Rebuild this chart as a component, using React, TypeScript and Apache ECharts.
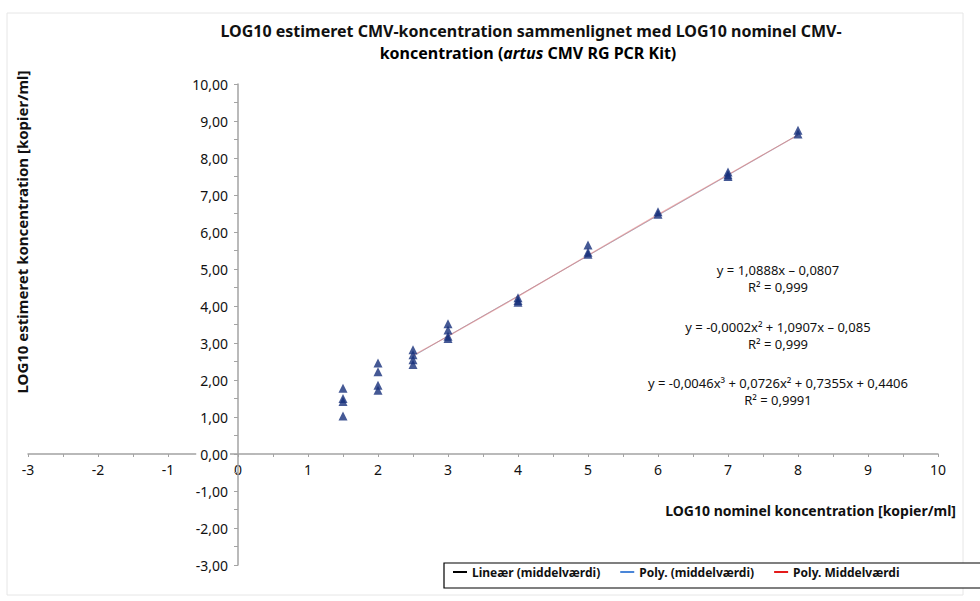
import React, { useEffect, useRef } from "react";
import * as echarts from "echarts";

const titleLine1 = "LOG10 estimeret CMV-koncentration sammenlignet med LOG10 nominel CMV-";
const titleLine2Parts = ["koncentration (", "artus", " CMV RG PCR Kit)"];
const yAxisTitle = "LOG10 estimeret koncentration [kopier/ml]";
const xAxisTitle = "LOG10 nominel koncentration [kopier/ml]";

const measured: [number, number][] = [
  [1.5, 1.78], [1.5, 1.5], [1.5, 1.42], [1.5, 1.03],
  [2, 2.46], [2, 2.22], [2, 1.86], [2, 1.72],
  [2.5, 2.82], [2.5, 2.68], [2.5, 2.55], [2.5, 2.42],
  [3, 3.52], [3, 3.35], [3, 3.18], [3, 3.12],
  [4, 4.22], [4, 4.15], [4, 4.1],
  [5, 5.65], [5, 5.45], [5, 5.4],
  [6, 6.55], [6, 6.48],
  [7, 7.62], [7, 7.55], [7, 7.5],
  [8, 8.75], [8, 8.65],
];

const trendX = [2.5, 3, 4, 5, 6, 7, 8];
const linearTrend = [2.64, 3.19, 4.27, 5.36, 6.45, 7.54, 8.63];
const poly2Trend = [2.64, 3.19, 4.27, 5.36, 6.45, 7.53, 8.62];
const poly3Trend = [2.66, 3.18, 4.26, 5.37, 6.47, 7.55, 8.62];

const legendNames = ["Lineær (middelværdi)", "Poly. (middelværdi)", "Poly. Middelværdi"];
const equations = [
  ["y = 1,0888x – 0,0807", "R² = 0,999"],
  ["y = -0,0002x² + 1,0907x – 0,085", "R² = 0,999"],
  ["y = -0,0046x³ + 0,0726x² + 0,7355x + 0,4406", "R² = 0,9991"],
];

const FONT = "'Noto Sans', sans-serif";
const AXIS_COLOR = "#a3a3a3";

export default function App() {
  const ref = useRef<HTMLDivElement>(null);
  useEffect(() => {
    if (!ref.current) return;
    const chart = echarts.init(ref.current, undefined, { renderer: "svg" });
    const pair = (ys: number[]) => trendX.map((x, i) => [x, ys[i]]);
    const eqGraphics: any[] = [];
    const eqY = [270, 327, 383];
    equations.forEach((eq, i) => {
      eq.forEach((t, j) => {
        eqGraphics.push({
          type: "text",
          x: 778,
          y: eqY[i] + j * 17,
          style: {
            text: t,
            font: `13px ${FONT}`,
            fill: "#111",
            textAlign: "center",
            textVerticalAlign: "middle",
          },
        });
      });
    });
    chart.setOption({
      animation: false,
      backgroundColor: "#fff",
      textStyle: { fontFamily: FONT },
      grid: {
        left: 28,
        right: 42,
        top: 84,
        bottom: 36,
        containLabel: false,
        outerBoundsMode: "none",
      },
      xAxis: {
        type: "value",
        min: -3,
        max: 10,
        interval: 1,
        offset: -111,
        axisLine: { onZero: false, lineStyle: { color: AXIS_COLOR, width: 1.5 } },
        axisTick: { show: true, length: 3, lineStyle: { color: AXIS_COLOR } },
        minorTick: { show: true, splitNumber: 2, length: 3, lineStyle: { color: AXIS_COLOR } },
        splitLine: { show: false },
        axisLabel: { color: "#111", fontSize: 14, margin: 8, fontFamily: FONT },
      },
      yAxis: {
        type: "value",
        min: -3,
        max: 10,
        interval: 1,
        offset: -210,
        axisLine: { onZero: false, lineStyle: { color: AXIS_COLOR, width: 1.5 } },
        axisTick: { show: true, length: 4, lineStyle: { color: AXIS_COLOR } },
        minorTick: { show: true, splitNumber: 2, length: 4, lineStyle: { color: AXIS_COLOR } },
        splitLine: { show: false },
        axisLabel: {
          color: "#111",
          fontSize: 14,
          margin: 8,
          fontFamily: FONT,
          backgroundColor: "#fff",
          padding: [0, 2, 0, 4],
          formatter: (v: number) => v.toFixed(2).replace(".", ","),
        },
        z: 3,
      },
      legend: {
        left: 453,
        top: 566,
        orient: "horizontal",
        padding: 0,
        itemGap: 20,
        itemWidth: 14,
        itemHeight: 2,
        textStyle: { fontFamily: FONT, fontSize: 12, fontWeight: "bold", color: "#111" },
        data: [
          { name: legendNames[0], icon: "rect", itemStyle: { color: "#000", opacity: 1 } },
          { name: legendNames[1], icon: "rect", itemStyle: { color: "#4a86d8", opacity: 1 } },
          { name: legendNames[2], icon: "rect", itemStyle: { color: "#e41a1a", opacity: 1 } },
        ],
      },
      series: [
        {
          name: legendNames[0],
          type: "line",
          data: pair(linearTrend),
          symbol: "none",
          itemStyle: { color: "#000" },
          lineStyle: { color: "#000", width: 1, opacity: 0.2 },
          z: 2,
        },
        {
          name: legendNames[1],
          type: "line",
          data: pair(poly2Trend),
          symbol: "none",
          itemStyle: { color: "#4a86d8" },
          lineStyle: { color: "#4a86d8", width: 1, opacity: 0.25 },
          z: 2,
        },
        {
          name: legendNames[2],
          type: "line",
          data: pair(poly3Trend),
          symbol: "none",
          itemStyle: { color: "#e41a1a" },
          lineStyle: { color: "#e07070", width: 1.2, opacity: 0.55 },
          z: 3,
        },
        {
          name: "Målt",
          type: "scatter",
          data: measured,
          symbol: "triangle",
          symbolSize: [9, 9],
          itemStyle: { color: "#17307a" },
          z: 4,
        },
      ],
      graphic: [
        {
          type: "rect",
          shape: { x: 7, y: 13, width: 956, height: 582 },
          style: { fill: "none", stroke: "#e6e6e6", lineWidth: 1 },
          silent: true,
          z: -10,
        },
        {
          type: "rect",
          shape: { x: 444, y: 563, width: 560, height: 25 },
          style: { fill: "#fff", stroke: "#000", lineWidth: 1.2 },
          silent: true,
          z: -5,
        },
        {
          type: "text",
          x: 531,
          y: 31,
          style: {
            text: titleLine1,
            font: `bold 16px ${FONT}`,
            fill: "#111",
            textAlign: "center",
            textVerticalAlign: "middle",
          },
        },
        {
          type: "text",
          x: 528,
          y: 53,
          style: {
            text: `{b|${titleLine2Parts[0]}}{bi|${titleLine2Parts[1]}}{b|${titleLine2Parts[2]}}`,
            textAlign: "center",
            textVerticalAlign: "middle",
            rich: {
              b: { fontFamily: FONT, fontSize: 16, fontWeight: "bold", color: "#111" },
              bi: { fontFamily: FONT, fontSize: 16, fontWeight: "bold", fontStyle: "italic", color: "#111" },
            },
          },
        },
        {
          type: "text",
          x: 22,
          y: 232,
          rotation: Math.PI / 2,
          style: {
            text: yAxisTitle,
            font: `bold 15px ${FONT}`,
            fill: "#111",
            textAlign: "center",
            textVerticalAlign: "middle",
          },
        },
        {
          type: "text",
          x: 956,
          y: 510,
          style: {
            text: xAxisTitle,
            font: `bold 14px ${FONT}`,
            fill: "#111",
            textAlign: "right",
            textVerticalAlign: "middle",
          },
        },
        ...eqGraphics,
      ],
    });
    return () => chart.dispose();
  }, []);
  return (
    <div
      ref={ref}
      style={{ position: "fixed", left: 0, top: 0, width: 980, height: 601 }}
    />
  );
}
